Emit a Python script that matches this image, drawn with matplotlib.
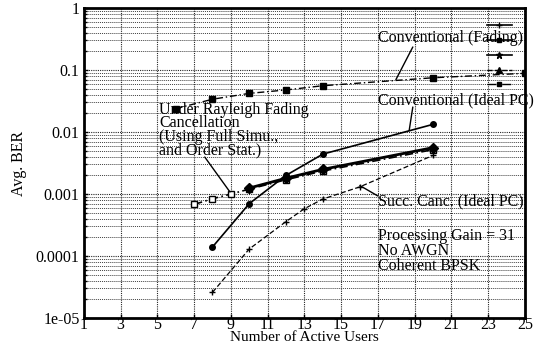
import matplotlib
matplotlib.use("Agg")
import matplotlib.pyplot as plt
from matplotlib.lines import Line2D
import numpy as np

plt.rcParams['font.family'] = ['Liberation Serif', 'DejaVu Serif']

# Data
conv_fading_x = [6, 8, 10, 12, 14, 20, 25]
conv_fading_y = [0.0238, 0.0338, 0.042, 0.0477, 0.0558, 0.075, 0.0885]

conv_ideal_x = [8, 10, 12, 14, 20]
conv_ideal_y = [1.4e-4, 7.0e-4, 2.0e-3, 4.4e-3, 1.33e-2]

rayleigh_full_x = [10, 12, 14, 20]
rayleigh_full_y = [1.25e-3, 1.8e-3, 2.5e-3, 5.6e-3]

rayleigh_order_x = [7, 8, 9, 10, 12, 14, 20]
rayleigh_order_y = [6.8e-4, 8.4e-4, 1.0e-3, 1.2e-3, 1.7e-3, 2.35e-3, 5.2e-3]

succ_x = [8, 10, 12, 13, 14, 16, 20]
succ_y = [2.6e-5, 1.3e-4, 3.6e-4, 5.8e-4, 8.3e-4, 1.3e-3, 4.2e-3]

x_ticks = [1, 3, 5, 7, 9, 11, 13, 15, 17, 19, 21, 23, 25]
y_ticks = [1, 0.1, 0.01, 0.001, 0.0001, 1e-05]
y_tick_labels = ['1', '0.1', '0.01', '0.001', '0.0001', '1e-05']

fig = plt.figure(figsize=(5.34, 3.48), dpi=100)
ax = fig.add_axes([0.157, 0.086, 0.826, 0.891])

ax.set_yscale('log')
ax.set_xlim(1, 25)
ax.set_ylim(1e-5, 1)

ax.set_xticks(x_ticks)
ax.set_xticklabels([str(t) for t in x_ticks])
ax.set_yticks(y_ticks)
ax.set_yticklabels(y_tick_labels)
ax.yaxis.set_minor_formatter(matplotlib.ticker.NullFormatter())
ax.tick_params(axis='both', which='both', direction='in', labelsize=11.5, length=3, width=1)
ax.tick_params(axis='y', which='minor', length=2)
ax.tick_params(axis='x', pad=-1)
ax.tick_params(axis='y', pad=3)

ax.grid(True, which='major', color='0.15', linestyle=(0, (1, 1)), linewidth=0.8)
ax.grid(True, which='minor', axis='y', color='0.25', linestyle=(0, (1, 1)), linewidth=0.7)
for s in ax.spines.values():
    s.set_linewidth(2)

# Series
ax.plot(conv_fading_x, conv_fading_y, color='black', linestyle=(0, (5, 2, 1, 2)), lw=1.0,
        marker='s', ms=4, mfc='black')
ax.plot(conv_ideal_x, conv_ideal_y, color='black', linestyle='-', lw=1.2,
        marker='o', ms=4, mfc='black')
ax.plot(rayleigh_order_x, rayleigh_order_y, color='black', linestyle=(0, (5, 2, 1, 2)), lw=1.2,
        marker='s', ms=4, mfc='white')
ax.plot(rayleigh_full_x, rayleigh_full_y, color='black', linestyle='-', lw=2.0,
        marker='D', ms=5, mfc='black')
ax.plot(succ_x, succ_y, color='black', linestyle=(0, (4, 2)), lw=0.9,
        marker='+', ms=4)

# Legend (no labels, as in reference)
handles = [
    Line2D([], [], color='black', lw=1.2, marker='+', ms=5),
    Line2D([], [], color='black', lw=1.2, marker='s', ms=3),
    Line2D([], [], color='black', lw=1.2, marker='*', ms=5),
    Line2D([], [], color='black', lw=1.0, linestyle='--', marker='^', ms=4),
    Line2D([], [], color='black', lw=1.0, linestyle='-.', marker='s', ms=3),
]
leg = ax.legend(handles, [''] * 5, loc='upper right', frameon=False, handlelength=2.2,
                labelspacing=0.45, borderaxespad=0.8, handletextpad=0.0, fontsize=8)

# Annotations
fs = 11.5
ap = dict(arrowstyle='-', color='black', lw=1.0, shrinkA=0, shrinkB=0)
ax.text(17.0, 0.33, 'Conventional (Fading)', fontsize=fs, ha='left', va='center')
ax.annotate('', xy=(17.98, 0.07), xytext=(18.9, 0.235), arrowprops=ap)

ax.text(17.0, 0.0328, 'Conventional (Ideal PC)', fontsize=fs, ha='left', va='center')
ax.annotate('', xy=(18.7, 0.0105), xytext=(18.9, 0.0253), arrowprops=ap)

ax.text(5.1, 0.0108, 'Under Rayleigh Fading\nCancellation\n(Using Full Simu.,\nand Order Stat.)',
        fontsize=fs, ha='left', va='center', linespacing=0.78)
ax.annotate('', xy=(8.95, 1.08e-3), xytext=(7.58, 0.00395), arrowprops=ap)

ax.text(17.0, 7.5e-4, 'Succ. Canc. (Ideal PC)', fontsize=fs, ha='left', va='center')
ax.annotate('', xy=(16.02, 1.37e-3), xytext=(17.0, 9.3e-4), arrowprops=ap)

ax.text(17.0, 2.8e-4, 'Processing Gain = 31\nNo AWGN\nCoherent BPSK', fontsize=fs,
        ha='left', va='top', linespacing=0.92)

ax.set_ylabel('Avg. BER', fontsize=11.5, labelpad=6)
ax.set_xlabel('Number of Active Users', fontsize=11, labelpad=-1)

fig.savefig('out.png', dpi=100)
